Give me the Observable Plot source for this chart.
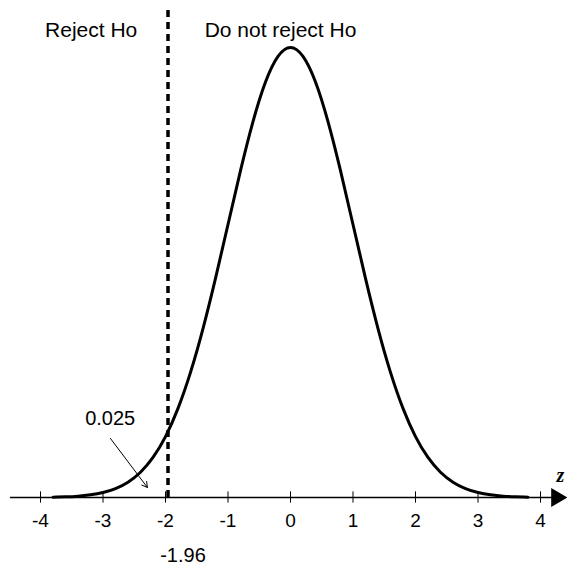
<!DOCTYPE html>
<html>
<head>
<meta charset="utf-8">
<script src="https://cdn.jsdelivr.net/npm/d3@7"></script>
<script src="https://cdn.jsdelivr.net/npm/@observablehq/plot@0.6"></script>
<style>
html,body{margin:0;padding:0;background:#fff;}
</style>
</head>
<body>
<div id="chart"></div>
<script>
// curve (standard normal shape)
const zValues = [-3.8,-3.6,-3.4,-3.2,-3.0,-2.8,-2.6,-2.4,-2.2,-2.0,-1.8,-1.6,-1.4,-1.2,-1.0,-0.8,-0.6,-0.4,-0.2,0,
                 0.2,0.4,0.6,0.8,1.0,1.2,1.4,1.6,1.8,2.0,2.2,2.4,2.6,2.8,3.0,3.2,3.4,3.6,3.8];
const density = [0.0003,0.0006,0.0012,0.0024,0.0044,0.0079,0.0136,0.0224,0.0355,0.0540,0.0790,0.1109,0.1497,0.1942,0.2420,0.2897,0.3332,0.3683,0.3910,0.3989,
                 0.3910,0.3683,0.3332,0.2897,0.2420,0.1942,0.1497,0.1109,0.0790,0.0540,0.0355,0.0224,0.0136,0.0079,0.0044,0.0024,0.0012,0.0006,0.0003];
const tickValues = [-4,-3,-2,-1,0,1,2,3,4];
const tickLabels = ["-4","-3","-2","-1","0","1","2","3","4"];
const criticalValue = -1.96;
const criticalLabel = "-1.96";
const regionLabels = ["Reject Ho","Do not reject Ho"];
const regionX = [-3.19,-0.16];
const tailLabel = "0.025";
const axisLabel = "z";

const curve = zValues.map((z,i)=>({z, d: density[i]}));
const regions = regionLabels.map((t,i)=>({t, x: regionX[i]}));
const ticks = tickValues.map((v,i)=>({v, t: tickLabels[i]}));

const font = "Liberation Sans, Arial, sans-serif";

const chart = Plot.plot({
  width: 567,
  height: 568,
  marginLeft: 40,
  marginRight: 27,
  marginTop: 47,
  marginBottom: 71,
  style: {fontFamily: font, fontSize: "20px", background: "#fff", overflow: "visible"},
  x: {domain: [-4, 4], axis: null},
  y: {domain: [0, 0.3989], axis: null},
  marks: [
    // horizontal axis
    Plot.ruleY([0], {x1: -4.48, x2: 4.2, stroke: "#000", strokeWidth: 1.5}),
    Plot.dot([{x: 4.258, y: 0}], {x: "x", y: "y", symbol: "triangle", r: 7, rotate: 90, fill: "#000", stroke: "none"}),
    // ticks crossing axis
    Plot.ruleX(ticks, {x: "v", y1: -0.005, y2: 0.005, stroke: "#000", strokeWidth: 1}),
    Plot.text(ticks, {x: "v", y: -0.0204, text: "t", fill: "#000", fontSize: 19}),
    // curve
    Plot.line(curve, {x: "z", y: "d", curve: "natural", stroke: "#000", strokeWidth: 3}),
    // critical value line
    Plot.ruleX([criticalValue], {y1: 0, y2: 0.4317, stroke: "#000", strokeWidth: 3.5, strokeDasharray: "7,5"}),
    Plot.text([criticalLabel], {x: -1.72, y: -0.0514, text: d => d, fill: "#000", fontSize: 20}),
    // region labels
    Plot.text(regions, {x: "x", y: 0.4140, text: "t", fill: "#000", fontSize: 21}),
    // tail area annotation
    Plot.text([tailLabel], {x: -2.885, y: 0.0700, text: d => d, fill: "#000", fontSize: 20}),
    Plot.arrow([{x1: -2.88, y1: 0.0523, x2: -2.29, y2: 0.0089}], {x1: "x1", y1: "y1", x2: "x2", y2: "y2", stroke: "#000", strokeWidth: 1, headLength: 9}),
    // axis label
    Plot.text([axisLabel], {x: 4.255, y: 0.0195, text: d => d, textAnchor: "start", fill: "#000", fontSize: 20, fontStyle: "italic", fontWeight: "bold", fontFamily: "Liberation Serif, serif"})
  ]
});
document.getElementById("chart").appendChild(chart);
</script>
</body>
</html>
